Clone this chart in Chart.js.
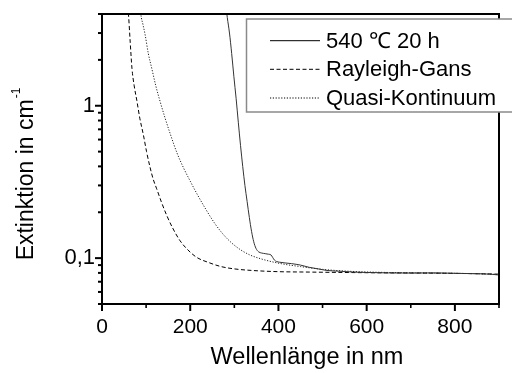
<!DOCTYPE html>
<html>
<head>
<meta charset="utf-8">
<script src="https://cdn.jsdelivr.net/npm/chart.js@4.4.1/dist/chart.umd.min.js"></script>
<style>
  html,body{margin:0;padding:0;background:#fff;overflow:hidden;}
  #wrap{position:absolute;left:0;top:0;width:512px;height:373px;}
</style>
</head>
<body>
<div id="wrap"><canvas id="c"></canvas></div>
<script>
// ---- data (wavelength in nm, extinction in 1/cm) ----
const seriesNames = ['540 \u2103 20 h', 'Rayleigh-Gans', 'Quasi-Kontinuum'];

const sampleX = [279, 284, 289, 294, 299, 304, 309, 314, 319, 324, 329, 334, 339, 344, 349, 355, 362, 370, 378, 383, 387, 391, 396, 403, 415, 430, 450, 470, 490, 510, 540, 570, 600, 650, 700, 750, 800, 850, 880, 900];
const sampleY = [5.0, 3.8, 3.0, 2.2, 1.55, 1.12, 0.78, 0.55, 0.40, 0.30, 0.235, 0.185, 0.15, 0.128, 0.116, 0.110, 0.108, 0.107, 0.106, 0.105, 0.101, 0.097, 0.095, 0.094, 0.093, 0.092, 0.090, 0.087, 0.085, 0.083, 0.082, 0.081, 0.0805, 0.080, 0.0798, 0.0800, 0.0795, 0.0790, 0.0785, 0.0775];

const rayleighX = [55, 60, 64, 68, 73, 79, 86, 94, 101, 109, 116, 124, 135, 147, 160, 177, 195, 215, 240, 270, 300, 340, 400, 470, 550, 650, 750, 850, 900];
const rayleighY = [6, 4.0, 2.6, 1.75, 1.35, 1.08, 0.82, 0.64, 0.50, 0.394, 0.33, 0.285, 0.232, 0.19, 0.158, 0.13, 0.113, 0.101, 0.094, 0.088, 0.085, 0.083, 0.0815, 0.081, 0.0805, 0.080, 0.0797, 0.079, 0.0785];

const quasiX = [84, 88, 93, 98, 105, 113, 122, 132, 143, 155, 170, 185, 200, 215, 235, 255, 275, 295, 315, 335, 360, 390, 420, 450, 490, 530, 580, 650, 750, 850, 900];
const quasiY = [5.5, 4.0, 3.4, 2.9, 2.2, 1.75, 1.35, 1.06, 0.83, 0.65, 0.49, 0.39, 0.32, 0.265, 0.21, 0.17, 0.143, 0.125, 0.113, 0.105, 0.099, 0.094, 0.0905, 0.088, 0.085, 0.083, 0.0815, 0.0805, 0.0798, 0.079, 0.078];

const xMajorTicks = [0, 200, 400, 600, 800];
const xMinorTicks = [100, 300, 500, 700, 900];
const yMajorTicks = [0.1, 1];
const yMinorTicks = [0.05, 0.06, 0.07, 0.08, 0.09, 0.2, 0.3, 0.4, 0.5, 0.6, 0.7, 0.8, 0.9, 2, 3, 4];
const yTickLabels = {'0.1': '0,1', '1': '1'};

const xTitle = 'Wellenl\u00e4nge in nm';
const yTitle = 'Extinktion in cm';
const yTitleSup = '-1';

const toPts = (xs, ys) => xs.map((v, i) => ({x: v, y: ys[i]}));

const FONT = '"Liberation Sans", Arial, sans-serif';

const decor = {
  id: 'decor',
  afterDraw(chart) {
    const {ctx, chartArea: a, scales: {x, y}} = chart;
    ctx.save();
    ctx.strokeStyle = '#000';
    // frame
    ctx.lineWidth = 2;
    ctx.strokeRect(a.left, a.top, a.right - a.left, a.bottom - a.top);
    // ticks
    const ln = (x1, y1, x2, y2, w) => { ctx.lineWidth = w; ctx.beginPath(); ctx.moveTo(x1, y1); ctx.lineTo(x2, y2); ctx.stroke(); };
    xMajorTicks.forEach(v => { const p = x.getPixelForValue(v); ln(p, a.bottom, p, a.bottom + 7, 2); });
    xMinorTicks.forEach(v => { const p = x.getPixelForValue(v); ln(p, a.bottom, p, a.bottom + 4, 1.6); });
    yMajorTicks.forEach(v => { const p = y.getPixelForValue(v); ln(a.left, p, a.left - 7, p, 2); });
    yMinorTicks.forEach(v => { const p = y.getPixelForValue(v); ln(a.left, p, a.left - 4, p, 2); });

    // axis titles
    ctx.fillStyle = '#000';
    ctx.font = '23.5px ' + FONT;
    ctx.textAlign = 'center';
    ctx.textBaseline = 'middle';
    ctx.fillText(xTitle, 307, 358);

    ctx.save();
    ctx.translate(27, 174);
    ctx.rotate(-Math.PI / 2);
    ctx.font = '23px ' + FONT;
    const w1 = ctx.measureText(yTitle).width;
    ctx.font = '12px ' + FONT;
    const w2 = ctx.measureText(yTitleSup).width;
    const start = -(w1 + w2 + 1) / 2;
    ctx.textAlign = 'left';
    ctx.font = '23px ' + FONT;
    ctx.fillText(yTitle, start, 0);
    ctx.font = '12px ' + FONT;
    ctx.fillText(yTitleSup, start + w1 + 1, -10);
    ctx.restore();

    // legend
    const lx = 246.5, ly = 19, lw = 280, lh = 93;
    ctx.fillStyle = '#fff';
    ctx.fillRect(lx, ly, lw, lh);
    ctx.strokeStyle = '#8a8a8a';
    ctx.lineWidth = 1.5;
    ctx.strokeRect(lx, ly, lw, lh);
    const rows = [40.7, 69.3, 98];
    const dashes = [[], [4, 2.5], [1.2, 1.6]];
    ctx.font = '22px ' + FONT;
    ctx.textAlign = 'left';
    ctx.textBaseline = 'middle';
    rows.forEach((ry, i) => {
      ctx.strokeStyle = '#000';
      ctx.lineWidth = 1;
      ctx.setLineDash(dashes[i]);
      ctx.beginPath(); ctx.moveTo(270, ry); ctx.lineTo(320, ry); ctx.stroke();
      ctx.setLineDash([]);
      ctx.fillStyle = '#000';
      ctx.fillText(seriesNames[i], 326, ry + 1);
    });
    ctx.restore();
  }
};

new Chart(document.getElementById('c'), {
  type: 'line',
  data: {
    datasets: [
      {label: seriesNames[0], data: toPts(sampleX, sampleY), borderColor: '#333', borderWidth: 1, pointRadius: 0, cubicInterpolationMode: 'monotone'},
      {label: seriesNames[1], data: toPts(rayleighX, rayleighY), borderColor: '#000', borderWidth: 1, borderDash: [4, 2.5], pointRadius: 0, cubicInterpolationMode: 'monotone'},
      {label: seriesNames[2], data: toPts(quasiX, quasiY), borderColor: '#222', borderWidth: 1, borderDash: [1.2, 1.6], pointRadius: 0, cubicInterpolationMode: 'monotone'}
    ]
  },
  options: {
    responsive: true,
    maintainAspectRatio: false,
    animation: false,
    devicePixelRatio: 1,
    layout: {padding: {left: 0, top: 14, right: 13, bottom: 0}},
    plugins: {legend: {display: false}, tooltip: {enabled: false}},
    scales: {
      x: {
        type: 'linear', min: 0, max: 900,
        afterFit(s) { s.height = 69; s.paddingLeft = 0; s.paddingRight = 0; },
        grid: {display: false, drawTicks: false},
        border: {display: false},
        ticks: {
          stepSize: 100, padding: 11, color: '#000', maxRotation: 0,
          font: {family: FONT, size: 21},
          callback: v => (v % 200 === 0 && v <= 800) ? String(v) : ''
        }
      },
      y: {
        type: 'logarithmic', min: 0.05, max: 4,
        afterFit(s) { s.width = 102; s.paddingTop = 0; s.paddingBottom = 0; },
        grid: {display: false, drawTicks: false},
        border: {display: false},
        ticks: {
          padding: 7, color: '#000', autoSkip: false,
          font: {family: FONT, size: 22},
          callback: v => { const k = String(+v.toFixed(3)); return yTickLabels[k] || ''; }
        }
      }
    }
  },
  plugins: [decor]
});
</script>
</body>
</html>
